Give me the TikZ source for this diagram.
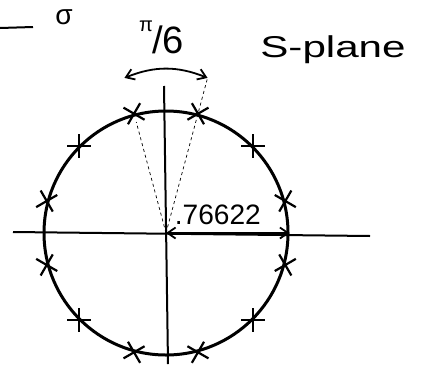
\documentclass[tikz,border=0pt]{standalone}
\usepackage{fontspec}
\setsansfont{Liberation Sans}
\usetikzlibrary{shapes.misc,arrows.meta,calc}
\begin{document}
\begin{tikzpicture}[x=1pt,y=-1pt,every node/.style={font=\sffamily\fontsize{28bp}{32bp}\selectfont,inner sep=0pt},
  pole/.style={cross out,draw,line width=2.2pt,minimum size=15pt},
  axis/.style={line width=2pt},
  guide/.style={dashed,line width=0.7pt},
  span/.style={{Straight Barb[length=8pt,width=11pt]}-{Straight Barb[length=8pt,width=11pt]},line width=1.8pt}]
\useasboundingbox (0,0) rectangle (430,364);
\node[circle,draw,line width=3pt,minimum size=244pt] (circ) at (166,233) {};
\coordinate (hl) at (13,232);
\coordinate (hr) at (370,236);
\coordinate (vt) at (164,86);
\coordinate (vb) at (168,364);
\draw[axis] (hl) -- (hr);
\draw[axis] (vt) -- (vb);
\foreach \k [evaluate=\k as \a using int(-15+30*\k)] in {1,...,12}
  \node[pole,rotate=\a] (p\k) at (circ.\a) {};
% the pi/6 spacing
\coordinate (al) at ($(circ.center)!1.3!(p4)$);
\coordinate (ar) at ($(circ.center)!1.3!(p3)$);
\draw[guide] (circ.center) -- (p4);
\draw[guide] (circ.center) -- (ar);
\draw[span] (al) to[bend left=22] (ar);
\node (pi) at (146,26) {\fontsize{20bp}{24bp}\selectfont π};
\node[anchor=west] (six) at (152,40) {\fontsize{38bp}{42bp}\selectfont/6};
\node (pl) at (333,50) {\scalebox{1.4}[1]{\fontsize{30bp}{34bp}\selectfont S-plane}};
% radius
\draw[span] (circ.center) -- (circ.east) node[pos=0.42,above=7pt] (rad) {.76622};
\draw[line width=2pt] (0,28) -- (33,27);
\node (sg) at (64,17) {σ};
\end{tikzpicture}
\end{document}
